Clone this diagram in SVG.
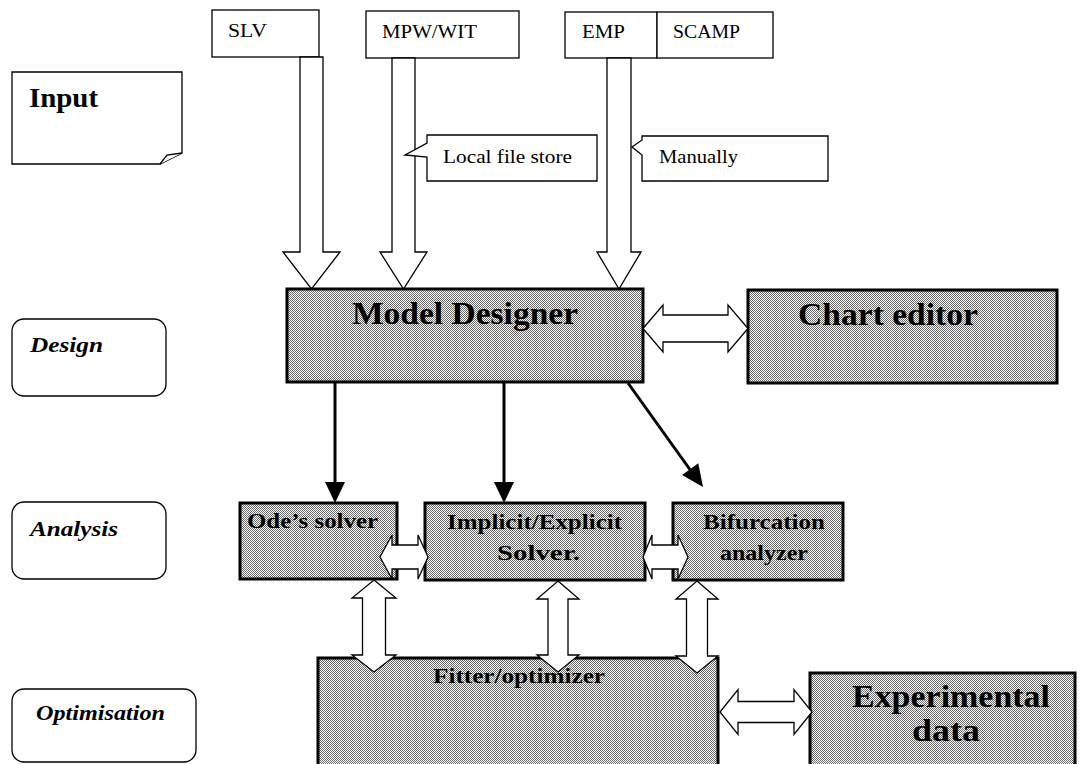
<svg xmlns="http://www.w3.org/2000/svg" width="1085" height="764" viewBox="0 0 1085 764">
<defs>
<pattern id="dots" patternUnits="userSpaceOnUse" width="2" height="2">
<rect width="2" height="2" fill="#ffffff"/>
<rect width="1" height="1" fill="#6a6a6a"/>
<rect x="1" y="1" width="1" height="1" fill="#6a6a6a"/>
</pattern>
</defs>
<style>
.lbl{fill:#fff;stroke:#000;stroke-width:1.3}
.stage{font-family:"Liberation Serif",serif;font-weight:bold;font-style:italic;font-size:22px;fill:#000}
.src{fill:#fff;stroke:#000;stroke-width:1.3}
.srct{font-family:"Liberation Serif",serif;font-size:19px;fill:#000}
.box{fill:url(#dots);stroke:#000;stroke-width:3}
.big{font-family:"Liberation Serif",serif;font-weight:bold;font-size:32px;fill:#000}
.mid{font-family:"Liberation Serif",serif;font-weight:bold;font-size:21px;fill:#000}
.blk{fill:#fff;stroke:#000;stroke-width:1.3;stroke-linejoin:miter}
.ln{stroke:#000;stroke-width:3;fill:none}
.hd{fill:#000;stroke:none}
</style>

<g id="input">
<path class="lbl" d="M12,72 H182 V153 L160,164 H12 Z"/>
<path class="lbl" d="M160,164 L167,155 L182,153" fill="none"/>
<text x="29" y="107" font-family="Liberation Serif,serif" font-weight="bold" font-size="28" textLength="69" lengthAdjust="spacingAndGlyphs">Input</text>
</g>
<g id="design-label">
<rect class="lbl" x="12" y="319" width="154" height="77" rx="12"/>
<text class="stage" x="30" y="352" textLength="73" lengthAdjust="spacingAndGlyphs">Design</text>
</g>
<g id="analysis-label">
<rect class="lbl" x="12" y="502" width="154" height="77" rx="12"/>
<text class="stage" x="30" y="536" textLength="88" lengthAdjust="spacingAndGlyphs">Analysis</text>
</g>
<g id="optimisation-label">
<rect class="lbl" x="12" y="689" width="184" height="73" rx="12"/>
<text class="stage" x="36" y="720" textLength="129" lengthAdjust="spacingAndGlyphs">Optimisation</text>
</g>

<g id="slv">
<rect class="src" x="212" y="10" width="107" height="47"/>
<text class="srct" x="228" y="37" textLength="39" lengthAdjust="spacingAndGlyphs">SLV</text>
</g>
<g id="mpw">
<rect class="src" x="366" y="11" width="153" height="47"/>
<text class="srct" x="382" y="38" textLength="95" lengthAdjust="spacingAndGlyphs">MPW/WIT</text>
</g>
<g id="emp">
<rect class="src" x="565" y="12" width="92" height="46"/>
<text class="srct" x="582" y="38" textLength="43" lengthAdjust="spacingAndGlyphs">EMP</text>
</g>
<g id="scamp">
<rect class="src" x="657" y="12" width="116" height="46"/>
<text class="srct" x="673" y="38" textLength="67" lengthAdjust="spacingAndGlyphs">SCAMP</text>
</g>

<g id="connectors">
<polygon class="blk" points="300,57 323,57 323,252 340,252 311.5,289 283,252 300,252"/>
<polygon class="blk" points="392,58 415,58 415,252 427,252 403.5,289 380,252 392,252"/>
<polygon class="blk" points="607,58 631,58 631,252 641,252 619,289 597,252 607,252"/>
</g>

<g id="callout-local">
<path class="src" d="M427,135 H597 V181 H427 V157 L405,155 L427,143 Z"/>
<text class="srct" x="443" y="163" textLength="129" lengthAdjust="spacingAndGlyphs">Local file store</text>
</g>
<g id="callout-manual">
<path class="src" d="M642,136 H828 V181 H642 V155 L632,147 L642,140 Z"/>
<text class="srct" x="659" y="163" textLength="79" lengthAdjust="spacingAndGlyphs">Manually</text>
</g>

<g id="model-designer">
<rect class="box" x="287" y="289" width="356" height="93"/>
<text class="big" x="352" y="324" textLength="226" lengthAdjust="spacingAndGlyphs">Model Designer</text>
</g>
<g id="chart-editor">
<rect class="box" x="748" y="290" width="309" height="93"/>
<text class="big" x="798" y="325" textLength="180" lengthAdjust="spacingAndGlyphs">Chart editor</text>
</g>

<g id="ode-solver">
<rect class="box" x="240" y="503" width="157" height="76"/>
<text class="mid" x="247" y="528" textLength="131" lengthAdjust="spacingAndGlyphs">Ode’s solver</text>
</g>
<g id="implicit-solver">
<rect class="box" x="425" y="503" width="220" height="77"/>
<text class="mid" x="447" y="529" textLength="175" lengthAdjust="spacingAndGlyphs">Implicit/Explicit</text>
<text class="mid" x="497" y="560" textLength="83" lengthAdjust="spacingAndGlyphs">Solver.</text>
</g>
<g id="bifurcation">
<rect class="box" x="673" y="503" width="170" height="77"/>
<text class="mid" x="703" y="529" textLength="122" lengthAdjust="spacingAndGlyphs">Bifurcation</text>
<text class="mid" x="720" y="560" textLength="88" lengthAdjust="spacingAndGlyphs">analyzer</text>
</g>

<g id="fitter">
<rect class="box" x="318" y="658" width="400" height="120"/>
<text class="mid" x="433" y="683" textLength="172" lengthAdjust="spacingAndGlyphs">Fitter/optimizer</text>
</g>
<g id="experimental">
<rect class="box" x="810" y="673" width="265" height="110"/>
<text class="big" x="852" y="707" textLength="198" lengthAdjust="spacingAndGlyphs">Experimental</text>
<text class="big" x="912" y="741" textLength="68" lengthAdjust="spacingAndGlyphs">data</text>
</g>

<g id="connectors-2">
<polygon class="blk" points="643,328.5 663,305 663,315 728,315 728,305 748,328.5 728,352 728,342 663,342 663,352"/>
<line class="ln" x1="335" y1="383" x2="335" y2="484"/>
<polygon class="hd" points="325,482 345,482 335,503"/>
<line class="ln" x1="504" y1="383" x2="504" y2="484"/>
<polygon class="hd" points="494,482 514,482 504,503"/>
<line class="ln" x1="628" y1="383" x2="691" y2="471"/>
<polygon class="hd" points="682.1,474.9 698.3,463.3 703,487"/>
<polygon class="blk" points="380,557 392,535 392,545 418,545 418,535 428,557 418,579 418,569 392,569 392,579"/>
<polygon class="blk" points="643,557 652,535 652,545 678,545 678,535 688,557 678,579 678,569 652,569 652,579"/>
<polygon class="blk" points="374,580 396,598 385.5,598 385.5,655 396,655 374,672 352,655 362.5,655 362.5,598 352,598"/>
<polygon class="blk" points="558,581 579,599 568,599 568,655 579,655 558,672 537,655 548,655 548,599 537,599"/>
<polygon class="blk" points="697,581 718,599 707.5,599 707.5,656 718,656 697,673 676,656 686.5,656 686.5,599 676,599"/>
<polygon class="blk" points="720,712 738,689.5 738,701.5 794,701.5 794,689.5 812,712 794,734.5 794,722.5 738,722.5 738,734.5"/>
</g>
</svg>
